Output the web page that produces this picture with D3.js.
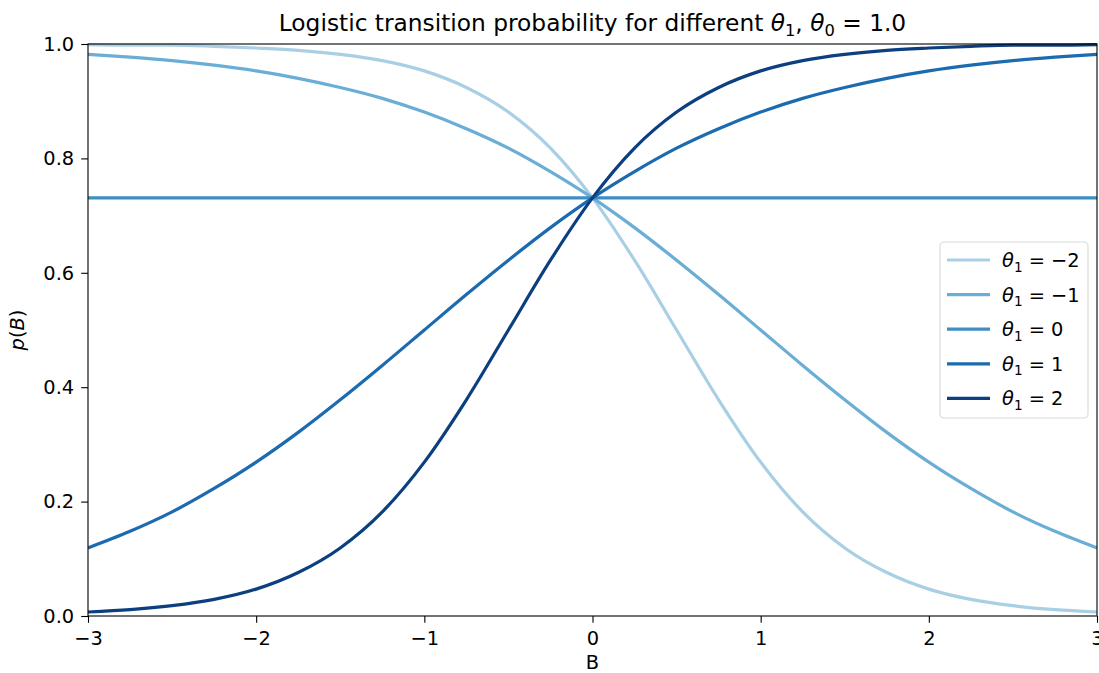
<!DOCTYPE html>
<html>
<head>
<meta charset="utf-8">
<script src="https://cdn.jsdelivr.net/npm/d3@7"></script>
<style>
  body { margin: 0; background: #fff; }
  text { font-family: "DejaVu Sans", sans-serif; fill: #000; }
</style>
</head>
<body>
<div id="chart"></div>
<script>
// Logistic transition probability curves, theta0 = 1.0

var bValues = [-3, -2.75, -2.5, -2.25, -2, -1.75, -1.5, -1.25, -1, -0.75, -0.5, -0.25,
               0, 0.25, 0.5, 0.75, 1, 1.25, 1.5, 1.75, 2, 2.25, 2.5, 2.75, 3];

var thetaLabels = ["−2", "−1", "0", "1", "2"];

var pThetaM2 = [0.999, 0.998, 0.998, 0.996, 0.993, 0.989, 0.982, 0.971, 0.953, 0.924, 0.881, 0.818,
                0.731, 0.622, 0.500, 0.378, 0.269, 0.182, 0.119, 0.076, 0.047, 0.029, 0.018, 0.011, 0.007];
var pThetaM1 = [0.982, 0.977, 0.971, 0.963, 0.953, 0.940, 0.924, 0.905, 0.881, 0.852, 0.818, 0.777,
                0.731, 0.679, 0.622, 0.562, 0.500, 0.438, 0.378, 0.321, 0.269, 0.223, 0.182, 0.148, 0.119];
var pTheta0 = [0.731, 0.731, 0.731, 0.731, 0.731, 0.731, 0.731, 0.731, 0.731, 0.731, 0.731, 0.731,
               0.731, 0.731, 0.731, 0.731, 0.731, 0.731, 0.731, 0.731, 0.731, 0.731, 0.731, 0.731, 0.731];
var pTheta1 = [0.119, 0.148, 0.182, 0.223, 0.269, 0.321, 0.378, 0.438, 0.500, 0.562, 0.622, 0.679,
               0.731, 0.777, 0.818, 0.852, 0.881, 0.905, 0.924, 0.940, 0.953, 0.963, 0.971, 0.977, 0.982];
var pTheta2 = [0.007, 0.011, 0.018, 0.029, 0.047, 0.076, 0.119, 0.182, 0.269, 0.378, 0.500, 0.622,
               0.731, 0.818, 0.881, 0.924, 0.953, 0.971, 0.982, 0.989, 0.993, 0.996, 0.998, 0.998, 0.999];

var seriesValues = [pThetaM2, pThetaM1, pTheta0, pTheta1, pTheta2];
var colors = ["#a9cfe5", "#6aaed6", "#3e8ec4", "#1c6aaf", "#0b3f80"];

var xTicks = [-3, -2, -1, 0, 1, 2, 3];
var yTicks = [0, 0.2, 0.4, 0.6, 0.8, 1.0];

var svgWidth = 1099;
var svgHeight = 673;
var margin = {top: 44, right: 2, bottom: 57, left: 88};
var chartWidth = svgWidth - margin.left - margin.right;
var chartHeight = svgHeight - margin.top - margin.bottom;

var tickFont = "19.4px";

var svg = d3.select("#chart").append("svg")
    .attr("width", svgWidth)
    .attr("height", svgHeight);

var chartGroup = svg.append("g")
    .attr("transform", `translate(${margin.left}, ${margin.top})`);

var xScale = d3.scaleLinear().domain([-3, 3]).range([0, chartWidth]);
var yScale = d3.scaleLinear().domain([0, 1]).range([chartHeight, 0]);

// Curves
var line = d3.line()
    .x((d, i) => xScale(bValues[i]))
    .y(d => yScale(d))
    .curve(d3.curveMonotoneX);

chartGroup.append("clipPath").attr("id", "plotclip")
    .append("rect").attr("x", 0).attr("y", -2).attr("width", chartWidth).attr("height", chartHeight + 4);

chartGroup.append("g")
    .attr("clip-path", "url(#plotclip)")
    .selectAll("path")
    .data(seriesValues)
    .enter()
    .append("path")
    .attr("d", line)
    .attr("fill", "none")
    .attr("stroke", (d, i) => colors[i])
    .attr("stroke-width", 3.2);

// Axes
var xAxis = d3.axisBottom(xScale)
    .tickValues(xTicks)
    .tickSize(6.8)
    .tickPadding(8)
    .tickFormat(d => d < 0 ? "−" + Math.abs(d) : d);
var yAxis = d3.axisLeft(yScale)
    .tickValues(yTicks)
    .tickSize(6.8)
    .tickPadding(7)
    .tickFormat(d3.format(".1f"));

var gx = chartGroup.append("g")
    .attr("transform", `translate(0, ${chartHeight})`)
    .call(xAxis);
var gy = chartGroup.append("g").call(yAxis);

[gx, gy].forEach(function(g) {
    g.select(".domain").remove();
    g.selectAll("line").attr("stroke", "#000").attr("stroke-width", 1.1);
    g.selectAll("text").style("font-size", tickFont).attr("fill", "#000");
});

// Frame
chartGroup.append("rect")
    .attr("width", chartWidth)
    .attr("height", chartHeight)
    .attr("fill", "none")
    .attr("stroke", "#000")
    .attr("stroke-width", 1.1);

// Title
var title = svg.append("text")
    .attr("x", margin.left + chartWidth / 2)
    .attr("y", 31)
    .attr("text-anchor", "middle")
    .style("font-size", "23.3px");
title.append("tspan").text("Logistic transition probability for different ");
title.append("tspan").style("font-style", "italic").text("θ");
title.append("tspan").attr("dy", 5).style("font-size", "16.3px").text("1");
title.append("tspan").attr("dy", -5).text(", ");
title.append("tspan").style("font-style", "italic").text("θ");
title.append("tspan").attr("dy", 5).style("font-size", "16.3px").text("0");
title.append("tspan").attr("dy", -5).text(" = 1.0");

// Axis labels
svg.append("text")
    .attr("x", margin.left + chartWidth / 2)
    .attr("y", 669)
    .attr("text-anchor", "middle")
    .style("font-size", tickFont)
    .text("B");

var yLabel = svg.append("text")
    .attr("transform", `translate(24, ${margin.top + chartHeight / 2}) rotate(-90)`)
    .attr("text-anchor", "middle")
    .style("font-size", tickFont);
yLabel.append("tspan").style("font-style", "italic").text("p");
yLabel.append("tspan").text("(");
yLabel.append("tspan").style("font-style", "italic").text("B");
yLabel.append("tspan").text(")");

// Legend
var legend = svg.append("g").attr("transform", "translate(940, 242)");
legend.append("rect")
    .attr("width", 148)
    .attr("height", 176)
    .attr("rx", 4)
    .attr("fill", "#fff")
    .attr("fill-opacity", 0.8)
    .attr("stroke", "#d9d9d9")
    .attr("stroke-width", 1.1);

var items = legend.selectAll("g.item")
    .data(thetaLabels)
    .enter()
    .append("g")
    .attr("class", "item")
    .attr("transform", (d, i) => `translate(0, ${18 + i * 34.6})`);

items.append("line")
    .attr("x1", 7).attr("x2", 50)
    .attr("stroke", (d, i) => colors[i])
    .attr("stroke-width", 3.2);

var itemText = items.append("text")
    .attr("x", 62)
    .attr("y", 7)
    .style("font-size", tickFont);
itemText.append("tspan").style("font-style", "italic").text("θ");
itemText.append("tspan").attr("dy", 4.5).style("font-size", "13.6px").text("1");
itemText.append("tspan").attr("dy", -4.5).text(d => " = " + d);
</script>
</body>
</html>
